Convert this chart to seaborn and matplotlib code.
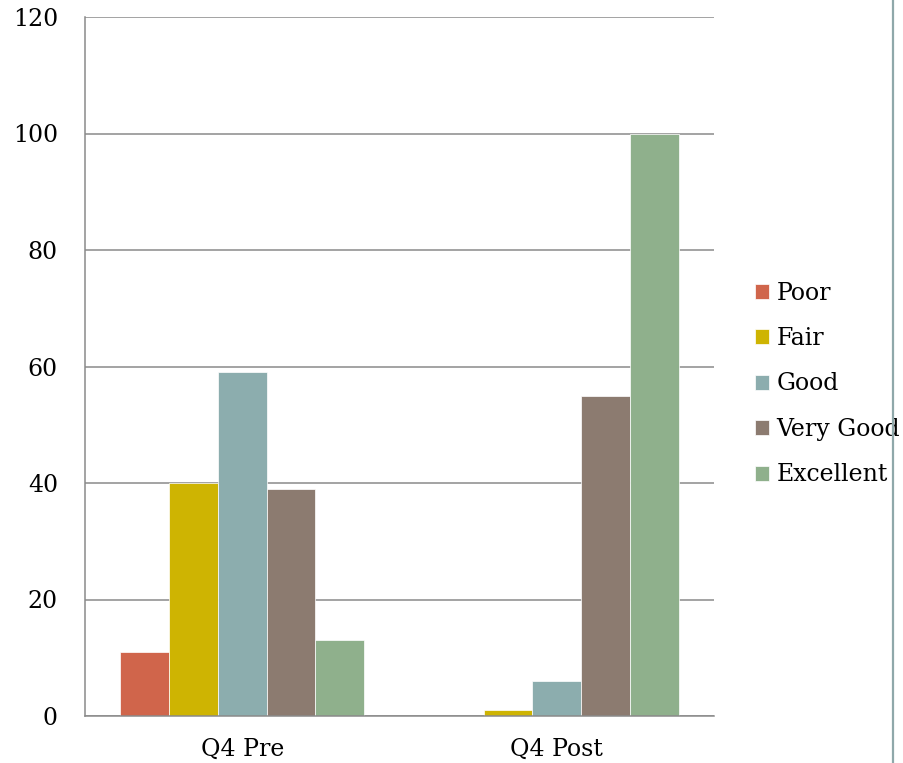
import matplotlib
matplotlib.use("Agg")
import matplotlib.pyplot as plt
from matplotlib.lines import Line2D
import seaborn as sns
import pandas as pd

categories = ["Q4 Pre", "Q4 Post"]
ratings = ["Poor", "Fair", "Good", "Very Good", "Excellent"]
poor = [11, 0]
fair = [40, 1]
good = [59, 6]
very_good = [39, 55]
excellent = [13, 100]
colors = ["#D0654B", "#CEB402", "#8CADAE", "#8C7B70", "#8FB08C"]
yticks = [0, 20, 40, 60, 80, 100, 120]

series = [poor, fair, good, very_good, excellent]
rows = []
for r, vals in zip(ratings, series):
    for c, v in zip(categories, vals):
        rows.append({"cat": c, "rating": r, "value": v})
df = pd.DataFrame(rows)

sns.set_theme(style="white")
plt.rcParams["font.family"] = ["DejaVu Serif"]
plt.rcParams["text.color"] = "black"

fig = plt.figure(figsize=(9.04, 7.63), dpi=100)
ax = fig.add_axes([85/904, 1-716/763, (714-85)/904, (716-17)/763])

sns.barplot(data=df, x="cat", y="value", hue="rating", hue_order=ratings,
            order=categories, palette=colors, saturation=1, width=0.775, ax=ax,
            edgecolor="white", linewidth=0.5, legend=True)

ax.set_ylim(0, 120)
ax.set_xlim(-0.5, 1.5)
ax.set_yticks(yticks)
ax.set_yticklabels([str(t) for t in yticks])
ax.set_xlabel("")
ax.set_ylabel("")
ax.yaxis.grid(True, color="#8A8A8A", linewidth=1.1)
ax.set_axisbelow(True)
for s in ["top", "right"]:
    ax.spines[s].set_visible(False)
for s in ["left", "bottom"]:
    ax.spines[s].set_color("#8A8A8A")
    ax.spines[s].set_linewidth(1.1)
ax.tick_params(axis="y", length=0, pad=19.5, labelsize=17, labelcolor="black")
ax.tick_params(axis="x", length=0, pad=15.5, labelsize=17, labelcolor="black")

handles, labels = ax.get_legend_handles_labels()
leg = ax.legend(handles, labels, loc="center left", bbox_to_anchor=(755/904, 1-384/763),
                bbox_transform=fig.transFigure, frameon=False, fontsize=17,
                handlelength=0.6, handleheight=0.6, handletextpad=0.3,
                labelspacing=0.95, borderaxespad=0, borderpad=0)
for t in leg.get_texts():
    t.set_color("black")

fig.add_artist(Line2D([893/904, 893/904], [0, 1], transform=fig.transFigure,
                      color="#8FA8AA", linewidth=1.6))

fig.savefig("out.png", dpi=100)
